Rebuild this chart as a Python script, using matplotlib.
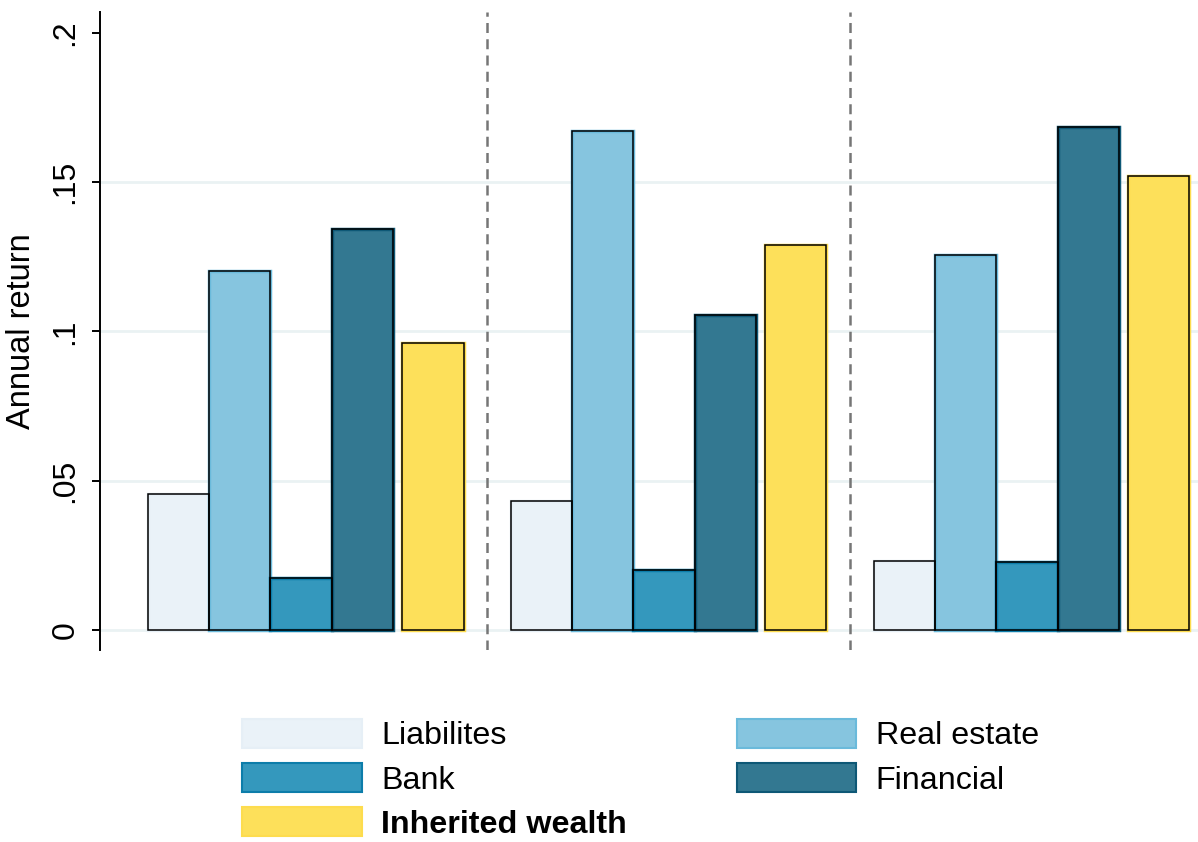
import matplotlib.pyplot as plt
from matplotlib.patches import Patch

plt.rcParams['font.family'] = ['Liberation Sans', 'DejaVu Sans']

# Data (three groups, no x labels)
series = ['Liabilites', 'Real estate', 'Bank', 'Financial', 'Inherited wealth']
liabilities = [0.0456, 0.0432, 0.0231]
real_estate = [0.1203, 0.1672, 0.1256]
bank = [0.0174, 0.0201, 0.0228]
financial = [0.1343, 0.1055, 0.1685]
inherited = [0.0961, 0.1290, 0.1520]

yticks = [0, 0.05, 0.1, 0.15, 0.2]
yticklabels = ['0', '.05', '.1', '.15', '.2']

fills = ['#EAF2F8', '#86C5DF', '#3498BD', '#337891', '#FDE05A']
inner = ['#E6EFF6', '#6ABADB', '#0C7DAA', '#0E5876', '#FDDC4E']

fig = plt.figure(figsize=(11.98, 8.42), dpi=100)
ax = fig.add_axes([100 / 1198, 1 - 650 / 842, 1 - 100 / 1198, (650 - 12) / 842])

group_step = 5.92
offsets = [0, 1, 2, 3, 4.15]
all_values = [liabilities, real_estate, bank, financial, inherited]

for g in range(3):
    base = g * group_step
    for i, vals in enumerate(all_values):
        x = base + offsets[i]
        ax.bar(x, vals[g], width=1, align='edge', color=fills[i],
               edgecolor=inner[i], linewidth=2.5, zorder=3)
        ax.bar(x, vals[g], width=1, align='edge', color='none',
               edgecolor='black', linewidth=1.1, zorder=4)

# light gridlines
for yv in [0, 0.05, 0.1, 0.15]:
    ax.axhline(yv, color='#EAF2F3', linewidth=2, zorder=1)

# dashed separators between groups
for g in range(1, 3):
    ax.axvline(g * group_step - 0.39, color='#767676', linewidth=1.8,
               linestyle=(0, (4, 2.5)), zorder=2)

ax.set_xlim(-0.78, 17.13)
ax.set_ylim(-0.0067, 0.207)
ax.set_xticks([])
ax.set_yticks(yticks)
ax.set_yticklabels(yticklabels, rotation=90, va='center', fontsize=23)
ax.tick_params(axis='y', length=6, width=1.4, pad=8)
ax.set_ylabel('Annual return', fontsize=23.5, labelpad=10)

for side in ['top', 'right', 'bottom']:
    ax.spines[side].set_visible(False)
ax.spines['left'].set_linewidth(1.4)

# legend, column-first order
order = [0, 2, 4, 1, 3]
handles = [Patch(facecolor=fills[i], edgecolor=inner[i], linewidth=1.5) for i in order]
labels = [series[i] for i in order]
leg = fig.legend(handles, labels, ncol=2, loc='upper left',
                 bbox_to_anchor=(242 / 1198, 1 - 719 / 842),
                 frameon=False, fontsize=23.2, handlelength=3.72, handleheight=1.0,
                 handletextpad=0.6, columnspacing=3.4, labelspacing=0.36,
                 borderpad=0, borderaxespad=0)
for t in leg.get_texts():
    if t.get_text() == 'Inherited wealth':
        t.set_fontweight('bold')

fig.savefig('out.png', dpi=100)
